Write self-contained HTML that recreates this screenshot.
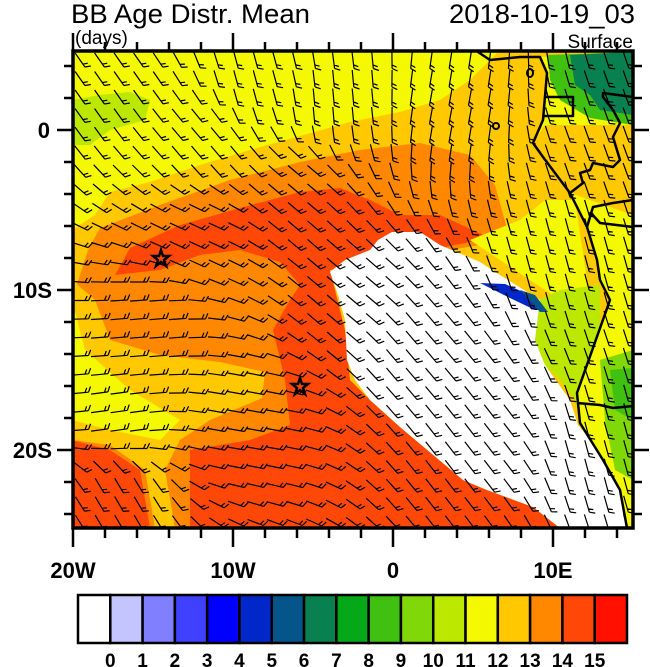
<!DOCTYPE html>
<html><head><meta charset="utf-8"><style>
html,body{margin:0;padding:0;background:#fff;width:650px;height:667px;overflow:hidden}
svg{display:block;font-family:"Liberation Sans",Arial,sans-serif}
</style></head><body>
<svg id="chart" width="650" height="667" viewBox="0 0 650 667">
<defs><clipPath id="mapclip"><rect x="73" y="51" width="560" height="477"/></clipPath></defs>
<text x="71" y="23" font-size="27" textLength="239" lengthAdjust="spacingAndGlyphs">BB Age Distr. Mean</text>
<text x="635" y="23" font-size="27" text-anchor="end" textLength="186" lengthAdjust="spacingAndGlyphs">2018-10-19_03</text>
<text x="75" y="44" font-size="19">(days)</text>
<text x="633" y="48" font-size="19" text-anchor="end">Surface</text>

<g clip-path="url(#mapclip)">
 <rect x="73" y="51" width="560" height="477" fill="#ffc800"/>
 <polygon fill="#f4f800" points="72,50 500,50 470,80 440,100 400,112 350,122 300,136 250,150 200,165 150,182 110,192 95,215 72,230"/>
 <polygon fill="#bce800" points="72,100 100,95 130,92 150,100 145,120 110,130 90,145 72,145"/>
 <polygon fill="#ff8800" points="100,228 160,205 230,180 300,162 360,150 420,143 470,155 495,185 510,240 330,270 330,528 72,528 72,300 88,250"/>
 <polygon fill="#ff4808" points="115,275 130,248 180,225 240,208 300,192 340,188 370,200 400,215 440,215 490,238 330,270 345,330 350,380 370,400 400,427 463,480 487,490 533,507 560,528 190,528 190,450 250,440 290,425 285,380 273,330 290,300 300,285 280,262 240,250 200,255 160,270"/>
 <polygon fill="#ff4808" points="72,440 110,450 140,470 150,528 72,528"/>
 <polygon fill="#ffc800" points="72,280 95,300 110,340 160,355 220,362 265,372 262,398 210,420 180,440 165,470 175,528 155,528 145,470 110,445 72,440"/>
 <polygon fill="#f4f800" points="72,300 85,350 130,390 180,420 160,440 110,430 72,420"/>
 <polygon fill="#f4f800" points="470,240 520,220 545,200 575,200 590,300 560,300"/>
 <polygon fill="#ffffff" points="330,272 345,260 370,250 378,240 392,232 420,232 440,245 480,262 500,275 540,300 535,340 545,365 570,400 578,425 600,450 615,470 622,500 633,528 560,528 533,507 487,490 463,480 400,427 370,400 355,380 347,360 345,320 338,295"/>
 <polygon fill="#bce800" points="540,300 560,290 600,285 600,405 580,420 575,400 560,380 545,365 535,340"/>
 <polygon fill="#0028c8" points="480,283 505,284 530,295 545,310 535,310 510,298"/>
 <polygon fill="#05558a" points="520,290 535,295 548,312 540,312"/>
 <polygon fill="#f4f800" points="540,57 633,52 633,528 627,528 620,490 603,460 580,423 577,393 610,300 600,280 587,227 570,193 543,157 533,143 543,120 547,73"/>
 <polygon fill="#ffc800" points="545,125 633,125 633,215 590,200 570,193 543,157 533,143"/>
 <polygon fill="#40c010" points="548,55 633,52 633,125 590,118 560,100 550,80"/>
 <polygon fill="#088050" points="570,55 633,52 633,115 600,110 590,95 575,85"/>
 <polygon fill="#80d808" points="600,360 633,350 633,480 615,470 605,420"/>
 <polygon fill="#40c010" points="610,370 633,368 633,420 615,410"/>
</g>

<g id="barbs" clip-path="url(#mapclip)"></g>

<g fill="none" stroke="#000" stroke-width="2.5" stroke-linejoin="round">
 <polyline points="478,52 490,60 520,57 540,57 547,73 543,120 533,143 543,157 570,193 587,227 597,260 600,280 610,300 577,393 580,423 603,460 620,490 627,528"/>
 <polyline points="545,97 573,97 573,116 543,116"/>
 <polyline points="633,97 603,93 603,97 613,110 620,123 613,137 620,160 613,167 593,163 590,170 580,173 583,183 570,193"/>
 <polyline points="587,227 593,207 613,203 633,200"/>
 <polyline points="590,212 600,223 633,227"/>
 <polyline points="577,403 600,405 613,408 633,406"/>
 <ellipse cx="530" cy="73" rx="3" ry="4" stroke-width="2"/>
 <ellipse cx="496" cy="126" rx="3" ry="3" stroke-width="2"/>
</g>

<g fill="none" stroke="#000" stroke-width="2.5">
 <polygon points="161,250 163,256 169,256 164,260 166,266 161,262 156,266 158,260 153,256 159,256"/>
 <polygon points="300,378 302,384 308,384 303,388 305,394 300,390 295,394 297,388 292,384 298,384"/>
</g>

<rect x="73" y="51" width="560" height="477" fill="none" stroke="#000" stroke-width="3.5"/>
<g id="ticks" stroke="#000" stroke-width="2.5"></g>
<g font-size="22" font-weight="bold" text-anchor="middle">
 <text x="73" y="578">20W</text>
 <text x="233" y="578">10W</text>
 <text x="393" y="578">0</text>
 <text x="553" y="578">10E</text>
 <text x="50" y="138" text-anchor="end">0</text>
 <text x="52" y="298" text-anchor="end">10S</text>
 <text x="52" y="458" text-anchor="end">20S</text>
</g>
<g id="colorbar"></g>
</svg>
<script>
const cbColors = ["#ffffff","#c4c4ff","#8080ff","#4040ff","#0000ff","#0028c8","#05558a","#088050","#05a818","#40c010","#80d808","#bce800","#f4f800","#ffc800","#ff8800","#ff4808","#ff1000"];
const cbLabels = ["0","1","2","3","4","5","6","7","8","9","10","11","12","13","14","15"];
const NS = "http://www.w3.org/2000/svg";
const cb = document.getElementById('colorbar');
const cbX0 = 78, cbX1 = 627, cbY = 595, cbH = 48;
const bw = (cbX1 - cbX0) / cbColors.length;
cbColors.forEach((c, i) => {
  const r = document.createElementNS(NS, 'rect');
  r.setAttribute('x', cbX0 + i * bw); r.setAttribute('y', cbY);
  r.setAttribute('width', bw); r.setAttribute('height', cbH);
  r.setAttribute('fill', c); r.setAttribute('stroke', '#000'); r.setAttribute('stroke-width', '2.5');
  
  
  cb.appendChild(r);
});
cbLabels.forEach((l, i) => {
  const t = document.createElementNS(NS, 'text');
  t.setAttribute('x', cbX0 + (i + 1) * bw); t.setAttribute('y', 667);
  t.setAttribute('font-size', '19'); t.setAttribute('font-weight', 'bold'); t.setAttribute('text-anchor', 'middle');
  t.textContent = l;
  
  
  cb.appendChild(t);
});
const lonX = lon => 393 + lon * 16, latY = lat => 130 - lat * 16;
const tk = document.getElementById('ticks');
function line(x1, y1, x2, y2) {
  const l = document.createElementNS(NS, 'line');
  l.setAttribute('x1', x1); l.setAttribute('y1', y1); l.setAttribute('x2', x2); l.setAttribute('y2', y2);
  
  
  tk.appendChild(l);
}
for (let lon = -20; lon <= 14; lon += 2) {
  const major = lon % 10 === 0, x = lonX(lon);
  line(x, 528, x, major ? 547 : 538);
  line(x, 51, x, major ? 33 : 42);
}
for (let lat = 4; lat >= -24; lat -= 2) {
  const major = lat % 10 === 0, y = latY(lat);
  line(73, y, major ? 57 : 64, y);
  line(633, y, major ? 649 : 642, y);
}
// wind barb direction anchors (screen x, y, angle deg toward upwind end)
const anchorX = [100, 250, 330, 450, 200, 150, 120, 250, 420, 480, 560, 600, 600, 300, 120, 350, 200];
const anchorY = [80, 80, 110, 110, 230, 330, 420, 420, 350, 450, 250, 150, 450, 180, 500, 300, 140];
const anchorA = [55, 75, 85, 100, 25, -5, -8, 10, 50, 52, 75, 70, 75, 40, 60, 40, 50];
const bg = document.getElementById('barbs');
function angAt(x, y) {
  let sx = 0, sy = 0;
  for (let i = 0; i < anchorX.length; i++) {
    const d2 = (x - anchorX[i]) ** 2 + (y - anchorY[i]) ** 2 + 100;
    const w = 1 / (d2 * d2);
    const a = anchorA[i] * Math.PI / 180;
    sx += w * Math.cos(a); sy += w * Math.sin(a);
  }
  return Math.atan2(sy, sx);
}
let path = '';
for (let y = 60; y < 530; y += 18.5) {
  for (let x = 80; x < 635; x += 19.5) {
    const a = angAt(x, y), L = 17;
    const dx = Math.cos(a), dy = Math.sin(a);
    const x1 = x - dx * L / 2, y1 = y - dy * L / 2, x2 = x + dx * L / 2, y2 = y + dy * L / 2;
    path += `M${x1.toFixed(1)},${y1.toFixed(1)}L${x2.toFixed(1)},${y2.toFixed(1)}`;
    const fa = a - 65 * Math.PI / 180;
    const fx = Math.cos(fa), fy = Math.sin(fa);
    path += `M${x2.toFixed(1)},${y2.toFixed(1)}l${(fx * 6).toFixed(1)},${(fy * 6).toFixed(1)}`;
    const x3 = x2 - dx * 3.5, y3 = y2 - dy * 3.5;
    path += `M${x3.toFixed(1)},${y3.toFixed(1)}l${(fx * 5).toFixed(1)},${(fy * 5).toFixed(1)}`;
  }
}
const bp = document.createElementNS(NS, 'path');
bp.setAttribute('d', path); bp.setAttribute('stroke', '#000'); bp.setAttribute('stroke-width', '1.2'); bp.setAttribute('fill', 'none');


bg.appendChild(bp);
</script>
</body></html>
